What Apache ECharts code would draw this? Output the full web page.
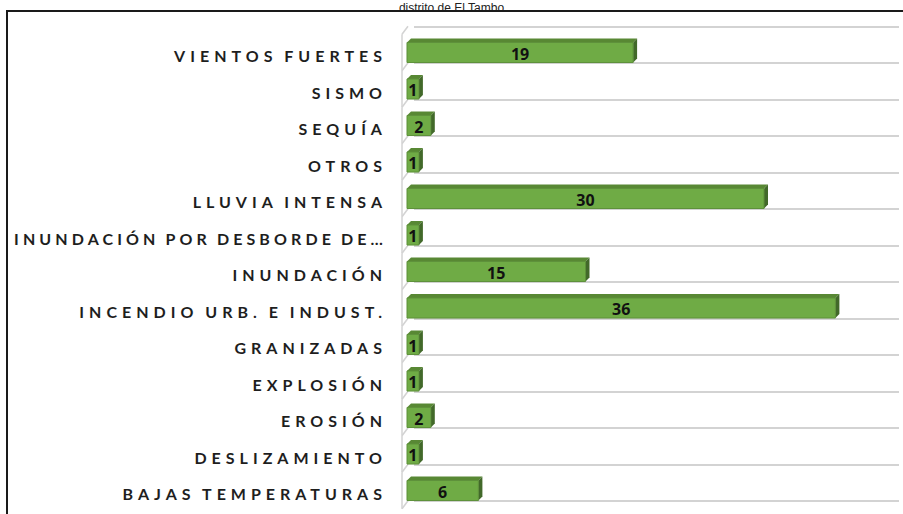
<!DOCTYPE html>
<html>
<head>
<meta charset="utf-8">
<script src="https://cdn.jsdelivr.net/npm/echarts@6/dist/echarts.min.js"></script>
<style>
  html, body { margin: 0; padding: 0; background: #ffffff; }
  #chart { width: 903px; height: 514px; }
  /* widely spaced capitals on the category labels */
  #chart text[style*="Lato"], #chart text[font-family*="Lato"] { letter-spacing: 5px; word-spacing: -2px; }
  /* the long, truncated label is set a little tighter */
  #chart text[style*="Inter"], #chart text[font-family*="Inter"] { letter-spacing: 4.1px; word-spacing: -2px; }
</style>
</head>
<body>
<div id="chart"></div>
<script>
// Emergencias registradas por tipo de fenómeno
const titleText = 'distrito de El Tambo';
const categories = [
  'VIENTOS FUERTES',
  'SISMO',
  'SEQUÍA',
  'OTROS',
  'LLUVIA INTENSA',
  'INUNDACIÓN POR DESBORDE DE…',
  'INUNDACIÓN',
  'INCENDIO URB. E INDUST.',
  'GRANIZADAS',
  'EXPLOSIÓN',
  'EROSIÓN',
  'DESLIZAMIENTO',
  'BAJAS TEMPERATURAS'
];
const values = [19, 1, 2, 1, 30, 1, 15, 36, 1, 1, 2, 1, 6];
const axisMax = 40;

const DEPTH = 4;        // extrusion of each bar
const WALL_DX = 6;      // offset of the back wall against the front plane
const WALL_DY = 8;

const chart = echarts.init(document.getElementById('chart'), null, { renderer: 'svg' });

// Bars drawn as small extruded boxes: front face, top face and right side
function renderBar(params, api) {
  const idx = api.value(1);
  const v = api.value(0);
  const start = api.coord([0, idx]);
  const end = api.coord([v, idx]);
  const band = api.size([0, 1])[1];
  const h = band * 0.55;
  const x0 = start[0], x1 = end[0], yc = start[1];
  const y0 = yc - h / 2, y1 = yc + h / 2;
  return {
    type: 'group',
    children: [
      { type: 'polygon', shape: { points: [[x0, y0], [x0 + DEPTH, y0 - DEPTH], [x1 + DEPTH, y0 - DEPTH], [x1, y0]] },
        style: { fill: '#588834' } },
      { type: 'polygon', shape: { points: [[x1, y0], [x1 + DEPTH, y0 - DEPTH], [x1 + DEPTH, y1 - DEPTH], [x1, y1]] },
        style: { fill: '#42692a' } },
      { type: 'rect', shape: { x: x0, y: y0, width: x1 - x0, height: h },
        style: { fill: '#6fab45', stroke: '#5c9039', lineWidth: 1 } },
      { type: 'text', style: { text: String(v), x: (x0 + x1) / 2, y: yc + 1, align: 'center', verticalAlign: 'middle',
        font: 'bold 16px "Open Sans"', fill: '#111111' } }
    ]
  };
}

// Left wall: vertical edge plus the short diagonals joining it to the back-wall lines
function renderWall(params, api) {
  const idx = api.value(0);
  const c = api.coord([0, idx]);
  const band = api.size([0, 1])[1];
  const xw = c[0] - 5;
  const yt = c[1] - band / 2, yb = c[1] + band / 2;
  const line = { stroke: '#d3d3d3', lineWidth: 1.5 };
  const children = [
    { type: 'line', shape: { x1: xw, y1: yt, x2: xw, y2: yb }, style: line },
    { type: 'line', shape: { x1: xw, y1: yb, x2: xw + WALL_DX, y2: yb - WALL_DY }, style: line }
  ];
  if (idx === 0) {
    children.push({ type: 'line', shape: { x1: xw, y1: yt, x2: xw + WALL_DX, y2: yt - WALL_DY }, style: line });
  }
  return { type: 'group', children };
}

const gridTop = 34.25, gridHeight = 474.5;
const labelBase = { fontWeight: 'bold', fontSize: 16, color: '#1e1e1e', padding: [6, 0, 0, 0] };

chart.setOption({
  animation: false,
  backgroundColor: '#ffffff',
  title: {
    text: titleText,
    left: 'center',
    top: -3,
    textStyle: { fontFamily: 'Liberation Sans', fontWeight: 'normal', fontSize: 12, color: '#222222' }
  },
  graphic: [
    { type: 'rect', shape: { x: 7, y: 11, width: 930, height: 530 },
      style: { fill: 'none', stroke: '#1a1a1a', lineWidth: 2 }, z: 100 }
  ],
  grid: [
    { left: 407, top: gridTop, width: 476, height: gridHeight },
    { left: 407 + WALL_DX + 1, top: gridTop - WALL_DY, width: 485, height: gridHeight }
  ],
  xAxis: [
    { gridIndex: 0, type: 'value', min: 0, max: axisMax, show: false },
    { gridIndex: 1, type: 'value', min: 0, max: axisMax, show: false }
  ],
  yAxis: [
    {
      gridIndex: 0, type: 'category', data: categories, inverse: true,
      axisLine: { show: false }, axisTick: { show: false }, splitLine: { show: false },
      axisLabel: {
        margin: 20,
        formatter: (name) => (name.length > 24 ? '{w|' : '{n|') + name + '}',
        rich: {
          n: Object.assign({ fontFamily: 'Lato' }, labelBase),
          w: Object.assign({ fontFamily: "'Lato', 'Inter'" }, labelBase)
        }
      }
    },
    {
      gridIndex: 1, type: 'category', data: categories, inverse: true,
      axisLine: { show: false }, axisTick: { show: false }, axisLabel: { show: false },
      splitLine: { show: true, lineStyle: { color: '#d3d3d3', width: 2 } }
    }
  ],
  series: [
    {
      type: 'custom', xAxisIndex: 0, yAxisIndex: 0,
      renderItem: renderWall,
      data: categories.map((c, i) => [i]),
      encode: { y: 0 }, silent: true
    },
    {
      type: 'custom', xAxisIndex: 0, yAxisIndex: 0,
      renderItem: renderBar,
      data: values.map((v, i) => [v, i]),
      encode: { x: 0, y: 1 }
    }
  ]
});
</script>
</body>
</html>
